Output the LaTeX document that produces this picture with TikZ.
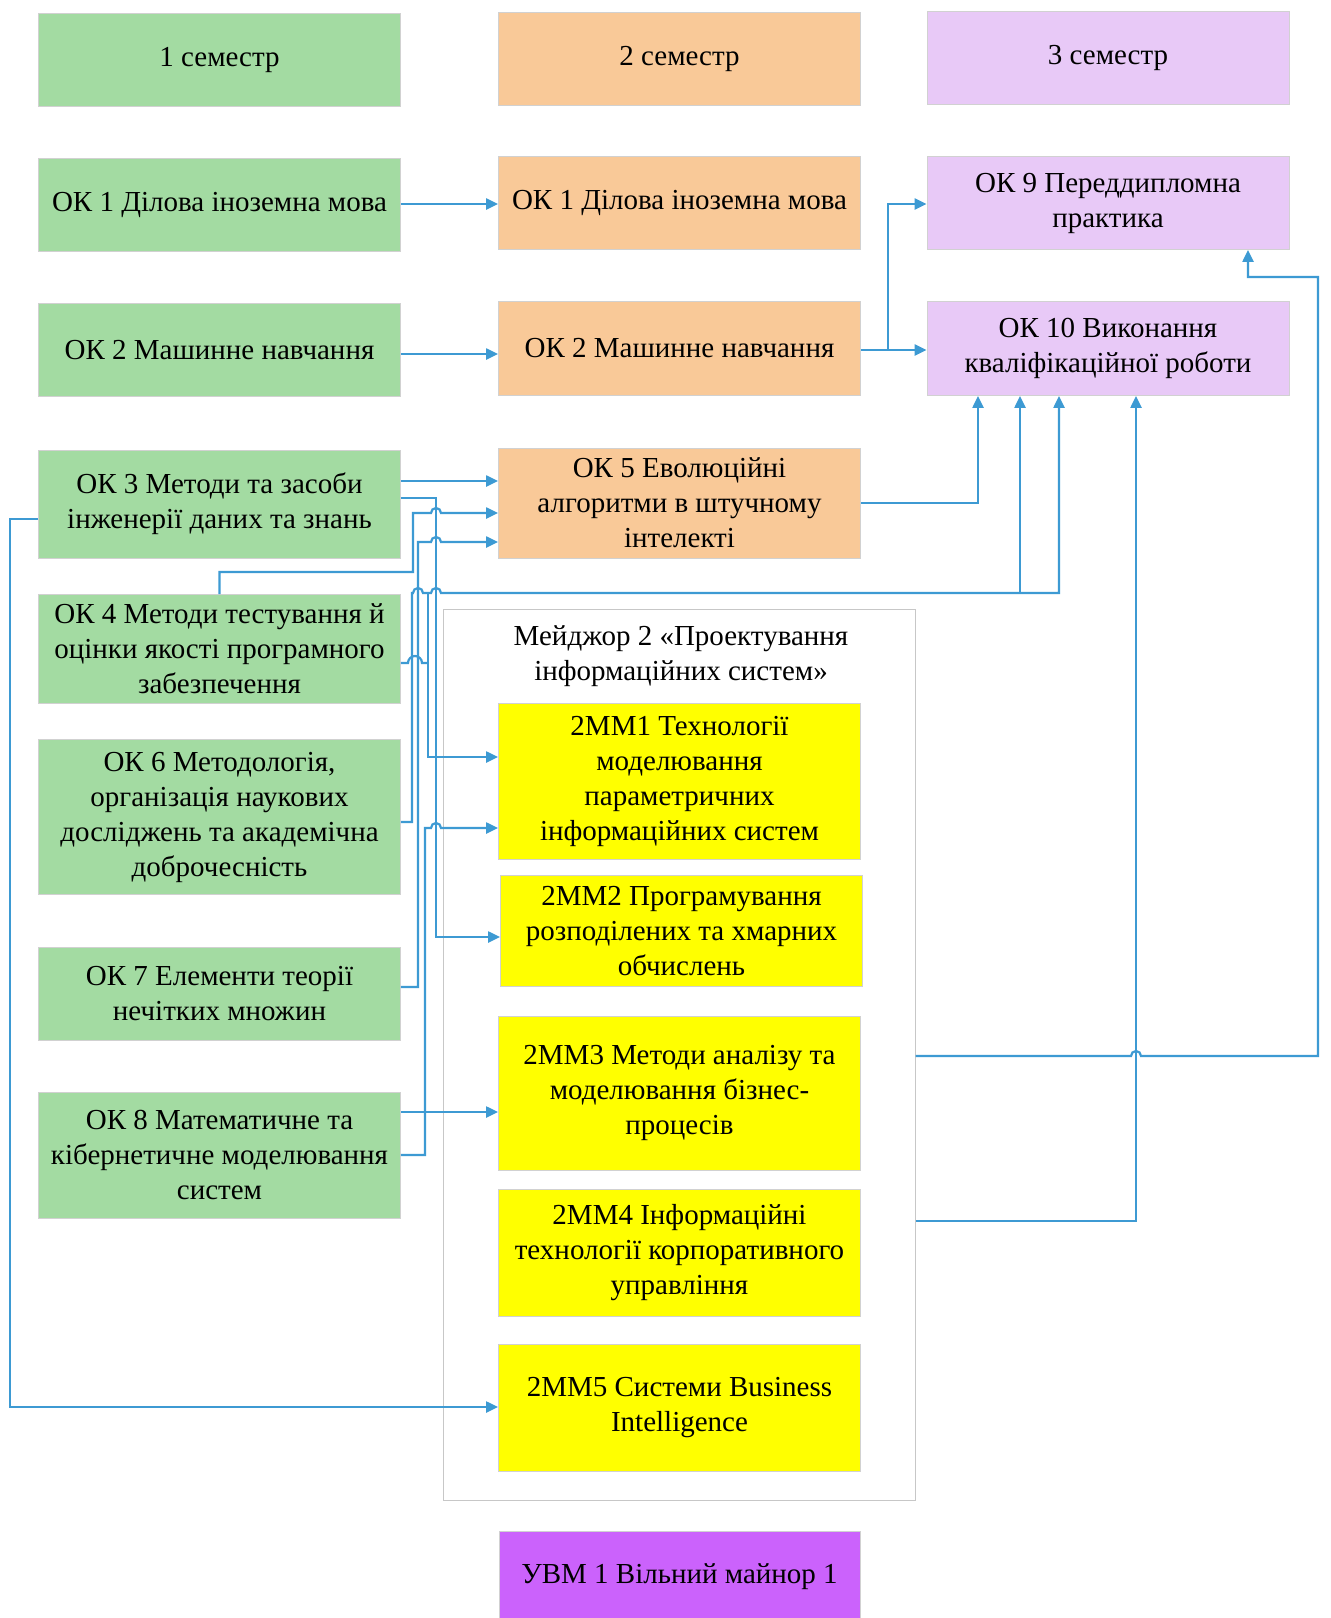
\documentclass[tikz,border=0pt]{standalone}
\usepackage{fontspec}
\setmainfont{Liberation Serif}
\usepackage{xcolor}
\usepackage{tikz}
\usetikzlibrary{arrows.meta}

\definecolor{semgreen}{HTML}{A3DBA2}
\definecolor{semorange}{HTML}{F9C998}
\definecolor{semlilac}{HTML}{E8C9F7}
\definecolor{mmyellow}{HTML}{FFFF00}
\definecolor{minorpurple}{HTML}{CB62FC}
\definecolor{linkblue}{HTML}{3D9AD3}

% line jump over a vertical connector
\newcommand{\jump}{arc[start angle=180,end angle=0,radius=2.5pt]}

\begin{document}
\begin{tikzpicture}[x=0.5pt, y=-0.5pt,
    box/.style={rectangle, draw=black!18, line width=0.4pt, minimum width=181pt, inner sep=2pt,
        align=center, text=black, font=\fontsize{14.5}{17.5}\selectfont},
    green box/.style={box, fill=semgreen},
    orange box/.style={box, fill=semorange},
    lilac box/.style={box, fill=semlilac},
    yellow box/.style={box, fill=mmyellow},
    conn/.style={draw=linkblue, line width=1.1pt, -{Triangle[length=6pt,width=5.5pt]}},
    link/.style={draw=linkblue, line width=1.1pt}]
    \useasboundingbox[fill=white] (0,0) rectangle (1330,1618);

    % семестри
    \node [green box, minimum height=46.5pt] (sem1) at (219.5,60) {1 семестр};
    \node [orange box, minimum height=46.5pt] (sem2) at (679.5,59) {2 семестр};
    \node [lilac box, minimum height=46.5pt] (sem3) at (1108,58) {3 семестр};

    % 1 семестр
    \node [green box, minimum height=46.5pt] (ok1a) at (219.5,205) {ОК 1 Ділова іноземна мова};
    \node [green box, minimum height=46.5pt] (ok2a) at (219.5,350) {ОК 2 Машинне навчання};
    \node [green box, minimum height=54pt] (ok3) at (219.5,504) {ОК 3 Методи та засоби\\інженерії даних та знань};
    \node [green box, minimum height=54.5pt] (ok4) at (219.5,649) {ОК 4 Методи тестування й\\оцінки якості програмного\\забезпечення};
    \node [green box, minimum height=77.5pt] (ok6) at (219.5,817) {ОК 6 Методологія,\\організація наукових\\досліджень та академічна\\доброчесність};
    \node [green box, minimum height=46.5pt] (ok7) at (219.5,994) {ОК 7 Елементи теорії\\нечітких множин};
    \node [green box, minimum height=63pt] (ok8) at (219.5,1155) {ОК 8 Математичне та\\кібернетичне моделювання\\систем};

    % 2 семестр
    \node [orange box, minimum height=46.5pt] (ok1b) at (679.5,203) {ОК 1 Ділова іноземна мова};
    \node [orange box, minimum height=47pt] (ok2b) at (679.5,348.5) {ОК 2 Машинне навчання};
    \node [orange box, minimum height=55pt] (ok5) at (679.5,503) {ОК 5 Еволюційні\\алгоритми в штучному\\інтелекті};

    % мейджор
    \node [rectangle, draw=black!22, line width=0.5pt, minimum width=236pt, minimum height=445.5pt] (major) at (679,1054.5) {};
    \node [align=center, text=black, font=\fontsize{14.5}{17.5}\selectfont] (majortitle) at (681,656) {Мейджор 2 «Проектування\\інформаційних систем»};
    \node [yellow box, minimum height=78pt] (mm1) at (679.5,781) {2ММ1 Технології\\моделювання\\параметричних\\інформаційних систем};
    \node [yellow box, minimum height=55.5pt] (mm2) at (681.5,931) {2ММ2 Програмування\\розподілених та хмарних\\обчислень};
    \node [yellow box, minimum height=77pt] (mm3) at (679.5,1093) {2ММ3 Методи аналізу та\\моделювання бізнес-\\процесів};
    \node [yellow box, minimum height=63.5pt] (mm4) at (679.5,1253) {2ММ4 Інформаційні\\технології корпоративного\\управління};
    \node [yellow box, minimum height=63.5pt] (mm5) at (679.5,1408) {2ММ5 Системи Business\\Intelligence};
    \node [box, fill=minorpurple, minimum width=180.5pt, minimum height=45.5pt] (uvm) at (679.5,1577) {УВМ 1 Вільний майнор 1};

    % 3 семестр
    \node [lilac box, minimum height=46.5pt] (ok9) at (1108,203) {ОК 9 Переддипломна\\практика};
    \node [lilac box, minimum height=47pt] (ok10) at (1108,348.5) {ОК 10 Виконання\\кваліфікаційної роботи};

    % зв'язки
    \draw [conn] (ok1a.east |- 0,204) -- (ok1b.west |- 0,204);
    \draw [conn] (ok2a.east |- 0,354) -- (ok2b.west |- 0,354);
    \draw [conn] (ok2b.east |- 0,350) -- (ok10.west |- 0,350);
    \coordinate (split) at (888,350);
    \draw [conn] (split) |- (ok9.west |- 0,204);
    \draw [conn] (ok5.east |- 0,503) -| (ok10.south -| 978,0);

    \draw [conn] (ok3.east |- 0,481) -- (ok5.west |- 0,481);
    \draw [conn] (ok3.east |- 0,498) -| (436,937) -- (mm2.west |- 0,937);
    \draw [conn] (ok3.west |- 0,519) -| (10,1407) -- (mm5.west |- 0,1407);
    \draw [conn] (ok4.north) |- (413,572) -- (413,513) -- (431,513) \jump -- (ok5.west |- 0,513);
    \draw [conn] (ok7.east |- 0,987) -| (418,542) -- (431,542) \jump -- (ok5.west |- 0,542);
    \draw [conn] (ok6.east |- 0,822) -| (412,593) -- (413,593) \jump -- (431,593) \jump -- (1059,593) -- (ok10.south -| 1059,0);
    \coordinate (fork) at (1020,593);
    \draw [conn] (fork) -- (ok10.south -| 1020,0);
    \draw [link] (ok4.east |- 0,663) -- (408,663) arc[start angle=180,end angle=0,radius=3.5pt] -- (428,663) coordinate (ok4turn);
    \draw [link] (ok4turn) -- (428,593);
    \draw [conn] (ok4turn) |- (mm1.west |- 0,757);
    \draw [conn] (ok8.east |- 0,1112) -- (mm3.west |- 0,1112);
    \draw [conn] (ok8.east) -| (425,828) -- (431,828) \jump -- (mm1.west |- 0,828);

    \draw [conn] (major.east |- 0,1056) -- (1131,1056) \jump -- (1318,1056) -- (1318,277) -| (ok9.south -| 1248,0);
    \draw [conn] (major.east |- 0,1221) -| (ok10.south -| 1136,0);
\end{tikzpicture}
\end{document}
